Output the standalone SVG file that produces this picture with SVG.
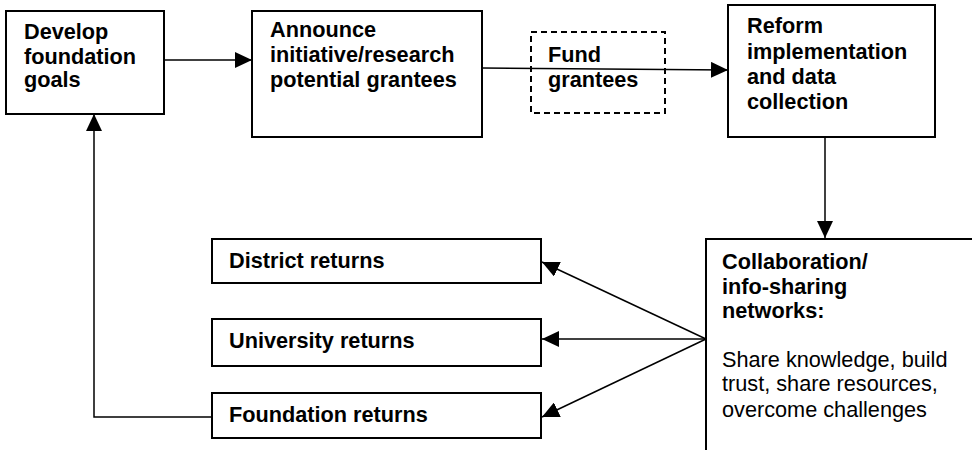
<svg xmlns="http://www.w3.org/2000/svg" width="972" height="450" viewBox="0 0 972 450">
<style>
.box{fill:#fff;stroke:#000;stroke-width:2}
.dash{fill:none;stroke:#000;stroke-width:2;stroke-dasharray:6 4}
.b{font-family:"Liberation Sans",Arial,sans-serif;font-weight:bold;font-size:21.7px;fill:#000}
.r{font-family:"Liberation Sans",Arial,sans-serif;font-size:21.7px;fill:#000}
.ln{fill:none;stroke:#000;stroke-width:1.5}
</style>
<defs>
<marker id="ah" markerUnits="userSpaceOnUse" markerWidth="18" markerHeight="16" refX="17" refY="8" orient="auto" viewBox="0 0 18 16">
<path d="M0,0 L17,8 L0,16 z" fill="#000"/>
</marker>
</defs>
<rect width="972" height="450" fill="#fff"/>
<g id="connectors">
<line class="ln" x1="164" y1="60" x2="252" y2="60" marker-end="url(#ah)"/>
<line class="ln" x1="482" y1="68" x2="728" y2="70" marker-end="url(#ah)"/>
<line class="ln" x1="825" y1="137" x2="825" y2="238" marker-end="url(#ah)"/>
<line class="ln" x1="706" y1="339" x2="542" y2="262" marker-end="url(#ah)"/>
<line class="ln" x1="706" y1="339" x2="542" y2="339" marker-end="url(#ah)"/>
<line class="ln" x1="706" y1="339" x2="542" y2="417" marker-end="url(#ah)"/>
<polyline class="ln" points="212,417 94,417 94,114" marker-end="url(#ah)"/>
</g>
<g id="develop">
<rect class="box" x="6" y="11" width="158" height="103"/>
<text class="b" x="24" y="39">Develop</text>
<text class="b" x="24" y="64">foundation</text>
<text class="b" x="24" y="87">goals</text>
</g>
<g id="announce">
<rect class="box" x="252" y="11" width="230" height="126"/>
<text class="b" x="270" y="37">Announce</text>
<text class="b" x="270" y="62">initiative/research</text>
<text class="b" x="270" y="87">potential grantees</text>
</g>
<g id="fund">
<rect class="dash" x="531" y="32" width="134" height="81"/>
<text class="b" x="548" y="62">Fund</text>
<text class="b" x="548" y="87">grantees</text>
</g>
<g id="reform">
<rect class="box" x="728" y="5" width="207" height="132"/>
<text class="b" x="747" y="33">Reform</text>
<text class="b" x="747" y="59">implementation</text>
<text class="b" x="747" y="84">and data</text>
<text class="b" x="747" y="109">collection</text>
</g>
<g id="collab">
<rect class="box" x="706" y="239" width="280" height="230"/>
<text class="b" x="722" y="269">Collaboration/</text>
<text class="b" x="722" y="294">info-sharing</text>
<text class="b" x="722" y="318">networks:</text>
<text class="r" x="722" y="367">Share knowledge, build</text>
<text class="r" x="722" y="391">trust, share resources,</text>
<text class="r" x="722" y="417">overcome challenges</text>
</g>
<g id="district">
<rect class="box" x="212" y="239" width="329" height="44"/>
<text class="b" x="229" y="268">District returns</text>
</g>
<g id="university">
<rect class="box" x="212" y="319" width="329" height="47"/>
<text class="b" x="229" y="348">University returns</text>
</g>
<g id="foundation">
<rect class="box" x="212" y="393" width="329" height="45"/>
<text class="b" x="229" y="422">Foundation returns</text>
</g>
</svg>
